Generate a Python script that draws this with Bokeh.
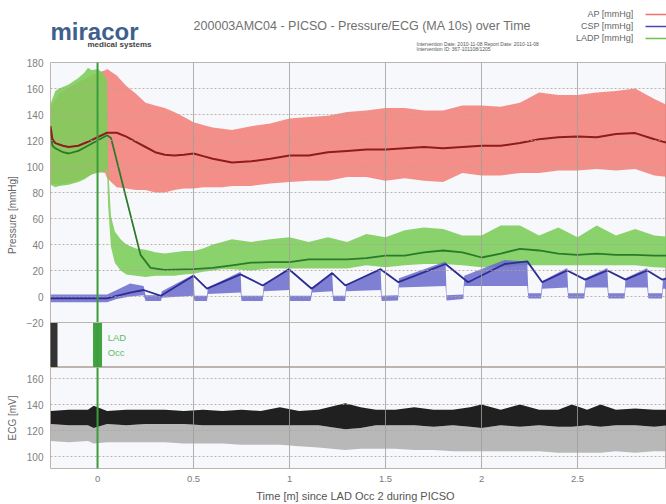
from bokeh.plotting import figure
from bokeh.layouts import column
from bokeh.models import Range1d, FixedTicker, NumeralTickFormatter, Span
from bokeh.embed import file_html
from bokeh.resources import INLINE
from bokeh.core.properties import value

# ---------------- data ----------------
x_ticks = [0, 0.5, 1, 1.5, 2, 2.5]
p_ticks = [-20, 0, 20, 40, 60, 80, 100, 120, 140, 160, 180]
ecg_ticks = [100, 120, 140, 160]

# AP raw envelope
ap_t = [-0.245, -0.2, -0.1, 0.0, 0.04, 0.05,
        0.1, 0.15, 0.2, 0.25, 0.3, 0.35, 0.4, 0.45, 0.5, 0.55, 0.6, 0.65, 0.7,
        0.8, 0.9, 1.0, 1.1, 1.2, 1.3, 1.4, 1.5, 1.6, 1.7, 1.8, 1.9, 2.0, 2.1, 2.2,
        2.3, 2.4, 2.5, 2.6, 2.7, 2.8, 2.9, 2.97]
ap_hi = [146, 156, 165, 172, 174, 175,
         170, 162, 156, 149, 147, 145, 142, 138, 134, 132, 130, 129, 128,
         131, 133, 137, 138, 139, 142, 143, 145, 145, 143, 143, 147, 147, 146, 149,
         157, 155, 155, 157, 158, 160, 152, 147]
ap_lo = [87, 86, 89, 96, 95, 91,
         84, 83, 82, 82, 80, 80, 82, 83, 83, 84, 84, 84, 85,
         85, 87, 88, 89, 89, 92, 92, 89, 91, 89, 88, 95, 93, 93, 95,
         95, 97, 97, 98, 97, 98, 93, 92]
# AP moving average
ap_ma_t = [-0.245, -0.235, -0.22, -0.18, -0.15, -0.1, -0.05, 0.0,
           0.05, 0.1, 0.15, 0.2, 0.25, 0.3, 0.35, 0.4, 0.45, 0.5, 0.55, 0.6,
           0.7, 0.8, 0.9, 1.0, 1.1, 1.2, 1.3, 1.4, 1.5, 1.6, 1.7, 1.8, 1.9, 2.0,
           2.1, 2.2, 2.3, 2.4, 2.5, 2.6, 2.7, 2.8, 2.9, 2.97]
ap_ma = [131, 121, 118, 116, 115, 116, 119, 122.5,
         126, 126, 123, 119, 115, 111, 109, 108.5, 109, 110, 108, 106,
         103, 104, 106, 108.5, 108.5, 111, 112, 113, 113, 114, 115, 114, 115, 116,
         116, 118, 121, 122.5, 123, 122.5, 125, 125.7, 121, 118]

# LADP raw envelope
lad_t = [-0.245, -0.22, -0.2, -0.15, -0.1, -0.07, -0.05, -0.03, 0.0, 0.03, 0.05,
         0.055, 0.07, 0.09, 0.12,
         0.15, 0.2, 0.25, 0.3, 0.35, 0.4, 0.45, 0.5, 0.55, 0.6, 0.65, 0.7,
         0.8, 0.9, 1.0, 1.1, 1.2, 1.3, 1.4, 1.5, 1.6, 1.7, 1.8, 1.9, 2.0, 2.1,
         2.2, 2.3, 2.4, 2.5, 2.6, 2.7, 2.8, 2.9, 2.97]
lad_hi = [148, 158, 160, 163, 168, 172, 176, 174, 175, 172, 166,
          100, 62, 50, 44,
          40, 37, 36, 34, 33, 34, 35, 35, 37, 40, 42, 44,
          42, 44, 45.6, 42, 45.6, 42, 48, 45.6, 51, 53, 52, 47, 47, 54.6,
          54.6, 47, 53, 45.6, 54.6, 47, 52, 47, 46]
lad_lo = [86, 84, 85, 86, 88, 90, 92, 94, 95, 96, 97,
          70, 38, 26, 20,
          17, 16, 15, 16, 16, 16, 17, 17.5, 19, 20, 21, 21,
          20, 21.5, 21.5, 21.5, 21.5, 21.5, 24, 22.5, 24, 25, 25, 24, 22.5, 22.5,
          24, 24, 24, 24, 24, 24, 24, 22.5, 22]
# LADP moving average
lad_ma_t = [-0.245, -0.235, -0.22, -0.18, -0.15, -0.1, -0.05, 0.0, 0.05, 0.07,
            0.224, 0.276, 0.35, 0.5, 0.6, 0.7, 0.8,
            0.9, 1.0, 1.1, 1.2, 1.3, 1.4, 1.5, 1.6, 1.7, 1.8, 1.9, 2.0, 2.1, 2.2,
            2.3, 2.4, 2.5, 2.6, 2.7, 2.8, 2.9, 2.97]
lad_ma = [128, 116, 114, 111, 110, 112, 116, 120, 124, 122,
          32, 22, 20.5, 21, 22, 24, 26,
          26.4, 26.4, 28.5, 28.5, 28.5, 29.5, 31.5, 31.5, 34, 35.4, 34, 30, 33, 36.7,
          35.4, 33, 32, 33, 32, 32, 31.5, 31.5]

# CSP raw envelope (PICSO inflation / deflation cycles)
csp_t = [-0.245, 0.05, 0.10, 0.17, 0.24, 0.25, 0.33, 0.335, 0.50, 0.505, 0.57,
         0.575, 0.745, 0.75, 0.86, 0.866, 0.997, 1.003, 1.11, 1.118, 1.222, 1.228,
         1.29, 1.295, 1.474, 1.48, 1.565, 1.57, 1.8125, 1.818, 1.905, 1.91, 2.12,
         2.238, 2.244, 2.31, 2.316, 2.446, 2.452, 2.535, 2.542, 2.655, 2.661,
         2.745, 2.75, 2.863, 2.869, 2.94, 2.945, 2.97]
csp_hi = [1.5, 1.5, 5, 10, 8, 1, 1, 4, 17, 0.5, 0.5,
          7, 19, 0.5, 0.5, 9, 22, 0.5, 0.5, 7, 19, 0.5,
          0.5, 9, 22, 0.5, 1, 14, 27, 1, 1.5, 16, 28,
          27, 2.5, 2.5, 12, 22, 2.5, 2.5, 14, 22, 2.5,
          2.5, 14, 22, 2.5, 2.5, 13, 16]
csp_lo = [-4.5, -4.5, -2, 0, 1, -3.5, -3.5, -1, 0.5, -3.5, -3.5,
          2, 3, -3.5, -3.5, 4, 5, -3.5, -3.5, 3, 4, -3.5,
          -3.5, 4, 5, -3.5, -3, 7, 8, -3, -2, 8, 8,
          8, -1.5, -1.5, 6, 7, -1.5, -1.5, 7, 7, -1.5,
          -1.5, 7, 7, -1.5, -1.5, 6, 6]
# CSP moving average
csp_ma_t = [-0.245, 0.05, 0.1, 0.17, 0.24, 0.33, 0.50, 0.57, 0.745, 0.86, 0.997,
            1.115, 1.222, 1.29, 1.474, 1.567, 1.8125, 1.93, 2.12, 2.238, 2.316,
            2.446, 2.54, 2.655, 2.75, 2.863, 2.94, 2.97]
csp_ma = [-1.5, -1.5, 0.5, 3, 5, 0.5, 16, 6, 17, 8.5, 21,
          6, 18, 8.5, 21, 11, 25, 11, 25, 27, 11,
          20, 13, 20, 13, 20, 13, 14]

# ECG envelope
ecg_t = [-0.245, -0.15, -0.05, -0.02, 0.05, 0.15, 0.25, 0.35, 0.45, 0.55, 0.65,
         0.75, 0.85, 0.95, 1.05, 1.15, 1.29, 1.37, 1.45, 1.55, 1.65, 1.75, 1.85,
         1.94, 2.0, 2.1, 2.2, 2.3, 2.4, 2.47, 2.55, 2.62, 2.7, 2.8, 2.9, 2.97]
ecg_hi = [135, 136, 136, 139, 135, 136, 136, 136, 135, 136, 135,
          136, 135, 138, 135, 136, 141, 138, 136, 136, 138, 136, 136,
          138, 140, 136, 140, 136, 136, 140, 136, 140, 136, 137, 136, 136]
ecg_lo = [125, 124, 124, 122, 125, 124, 125, 125, 125, 124, 124,
          124, 124, 124, 124, 124, 121, 122, 124, 124, 124, 123, 124,
          123, 122, 124, 123, 124, 123, 123, 124, 123, 124, 124, 123, 124]
ecg_floor = [112, 111, 112, 110, 111, 111, 111, 111, 110, 110, 110,
             109, 109, 109, 108, 107, 105, 106, 106, 106, 105, 105, 104,
             104, 104, 104, 104, 104, 103, 103, 103, 103, 104, 103, 104, 104]

# events
event_t = [-0.232, 0.0]
occ_time = 0.0
event_text = ["LAD", "Occ"]

legend_names = ["AP [mmHg]", "CSP [mmHg]", "LADP [mmHg]"]
legend_colors = ["#f07070", "#4848b0", "#70c050"]
title_text = "200003AMC04 - PICSO - Pressure/ECG (MA 10s) over Time"
sub_lines = ["Intervention Date: 2010-11-08 Report Date: 2010-11-08",
             "Intervention ID: 367-101108/1205"]

# ---------------- layout / styling ----------------
FONT = "Liberation Sans"
W = 666
LEFT = 50
HEAD_H = 56
PX_PER_MMHG = 1.3
P_FRAME_H = 305                      # pressure + marker strip
P_TOP = 180
P_BOTTOM = P_TOP - P_FRAME_H / PX_PER_MMHG
MARK_TOP = p_ticks[0]
BG = "#f6f8fb"
HGRID = "#b3a399"
VGRID = "#a19d99"
OUTLINE = "#bdb5ad"
OCC_GREEN = "#3c9c3c"

xr = Range1d(-0.245, -0.245 + (W - LEFT) / 192.0)


def style_yaxis(fig, label, ticks):
    ax = fig.yaxis[0]
    ax.ticker = FixedTicker(ticks=ticks)
    ax.axis_label = label
    ax.axis_label_text_font = FONT
    ax.axis_label_text_font_size = "10px"
    ax.axis_label_text_font_style = "normal"
    ax.axis_label_text_color = "#666666"
    ax.axis_label_standoff = 6
    ax.major_label_text_font = FONT
    ax.major_label_text_font_size = "10px"
    ax.major_label_text_color = "#808080"
    ax.major_label_standoff = 7
    ax.major_tick_out = 0
    ax.major_tick_in = 0
    ax.minor_tick_out = 0
    ax.minor_tick_in = 0
    ax.axis_line_color = None


def style_frame(fig):
    fig.background_fill_color = BG
    fig.border_fill_color = "white"
    fig.outline_line_color = OUTLINE
    fig.xgrid.ticker = FixedTicker(ticks=x_ticks)
    fig.xgrid.grid_line_color = VGRID
    fig.xgrid.grid_line_width = 1
    fig.xgrid.grid_line_alpha = 0.8
    fig.ygrid.grid_line_color = HGRID
    fig.ygrid.grid_line_dash = "2 2"
    fig.ygrid.grid_line_alpha = 0.8
    fig.xgrid.level = "guide"
    fig.ygrid.level = "guide"
    fig.add_layout(Span(location=occ_time, dimension="height",
                        line_color=OCC_GREEN, line_width=2))


# ---------------- header ----------------
h = figure(width=W, height=HEAD_H, x_range=Range1d(LEFT, W), y_range=Range1d(HEAD_H, 0),
           toolbar_location=None, output_backend="svg",
           x_axis_location=None, y_axis_location=None,
           min_border_left=LEFT, min_border_right=0, min_border_top=0,
           min_border_bottom=0)
h.grid.visible = False
h.outline_line_color = None
h.background_fill_color = "white"
h.border_fill_color = "white"

h.text(x=[50], y=[31], text=["miracor"], text_font=value(FONT),
       text_font_size=value("24px"), text_font_style="bold",
       text_color="#3f5f8e", text_baseline="alphabetic")
h.text(x=[119], y=[43.5], text=["medical systems"], text_font=value(FONT),
       text_font_size=value("8px"), text_font_style="bold",
       text_color="#444444", text_align="center", text_baseline="middle")
h.text(x=[362], y=[25], text=[title_text], text_font=value(FONT),
       text_font_size=value("12.5px"), text_color="#707070",
       text_align="center", text_baseline="middle")
h.text(x=[416, 416], y=[43, 48.5], text=sub_lines, text_font=value(FONT),
       text_font_size=value("5px"), text_color="#555555",
       text_align="left", text_baseline="middle")
h.text(x=[633, 633, 633], y=[13, 25, 37], text=legend_names, text_font=value(FONT),
       text_font_size=value("9px"), text_color="#666666",
       text_align="right", text_baseline="middle")
h.segment(x0=[645, 645, 645], y0=[14, 26, 38], x1=[666, 666, 666], y1=[14, 26, 38],
          line_color=legend_colors, line_width=1.5)

# ---------------- pressure panel (with event strip below -20) ----------------
p = figure(width=W, frame_height=P_FRAME_H, x_range=xr,
           y_range=Range1d(P_BOTTOM, P_TOP),
           toolbar_location=None, output_backend="svg", x_axis_location=None,
           min_border_left=LEFT, min_border_right=0, min_border_top=6,
           min_border_bottom=0)
style_yaxis(p, "Pressure [mmHg]", p_ticks)
style_frame(p)
p.add_layout(Span(location=MARK_TOP, dimension="width", line_color=OUTLINE,
                  line_width=1))

p.varea(x=ap_t, y1=ap_lo, y2=ap_hi, fill_color="#f27d73", fill_alpha=0.85)
p.varea(x=lad_t, y1=lad_lo, y2=lad_hi, fill_color="#7ecd5b", fill_alpha=0.9)
p.varea(x=csp_t, y1=csp_lo, y2=csp_hi, fill_color="#6a6acd", fill_alpha=0.85)
p.line(x=lad_ma_t, y=lad_ma, line_color="#2a7a2a", line_width=1.8)
p.line(x=ap_ma_t, y=ap_ma, line_color="#8e1c1c", line_width=2)
p.line(x=csp_ma_t, y=csp_ma, line_color="#2c2c92", line_width=1.8)

# event markers in the strip
mark_mid = (MARK_TOP + P_BOTTOM) / 2
mark_h = MARK_TOP - P_BOTTOM
p.rect(x=event_t, y=[mark_mid] * len(event_t), width=9, width_units="screen",
       height=mark_h, fill_color=["#333333", "#3fa33f"], line_color=None)
p.text(x=[occ_time + 0.053] * 2,
       y=[MARK_TOP - 15 / PX_PER_MMHG, MARK_TOP - 30 / PX_PER_MMHG],
       text=event_text, text_font=value(FONT), text_font_size=value("9.5px"),
       text_color="#66bb66", text_baseline="middle")

# ---------------- ECG panel ----------------
e = figure(width=W, frame_height=101, x_range=xr, y_range=Range1d(90.8, 168.5),
           toolbar_location=None, output_backend="svg",
           min_border_left=LEFT, min_border_right=0, min_border_top=0)
style_yaxis(e, "ECG [mV]", ecg_ticks)
style_frame(e)
xa = e.xaxis[0]
xa.ticker = FixedTicker(ticks=x_ticks)
xa.formatter = NumeralTickFormatter(format="0.[0]")
xa.axis_label = "Time [m] since   LAD Occ 2 during PICSO"
xa.axis_label_text_font = FONT
xa.axis_label_text_font_size = "11px"
xa.axis_label_text_font_style = "normal"
xa.axis_label_text_color = "#555555"
xa.axis_label_standoff = 5
xa.major_label_text_font = FONT
xa.major_label_text_font_size = "9.5px"
xa.major_label_text_color = "#7a7a7a"
xa.major_label_standoff = 7
xa.major_tick_out = 0
xa.major_tick_in = 0
xa.minor_tick_out = 0
xa.minor_tick_in = 0
xa.axis_line_color = None

e.varea(x=ecg_t, y1=ecg_floor, y2=ecg_lo, fill_color="#a3a3a3", fill_alpha=0.75)
e.varea(x=ecg_t, y1=ecg_lo, y2=ecg_hi, fill_color="#141414", fill_alpha=0.95)

layout = column(h, p, e, spacing=0)
open("out.html", "w").write(file_html(layout, INLINE))
